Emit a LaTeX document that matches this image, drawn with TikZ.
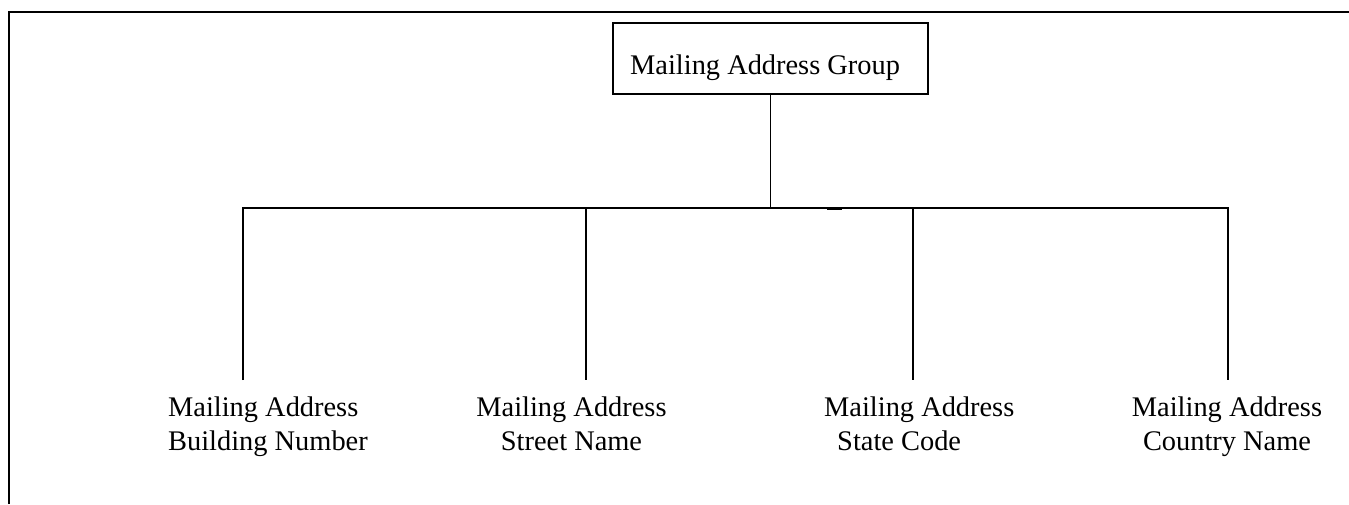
\documentclass[tikz,border=0pt]{standalone}
\usepackage{fontspec}
\setmainfont{Liberation Serif}
\begin{document}
\begin{tikzpicture}[x=1pt,y=-1pt,
  conn/.style={line width=1.3pt},
  frameline/.style={line width=2pt},
  lbl/.style={inner sep=0pt, font=\fontsize{28.4pt}{34pt}\selectfont},
  boxnode/.style={draw, line width=1.3pt, inner sep=0pt, minimum width=315pt, minimum height=71pt}]
\useasboundingbox (0,0) rectangle (1349,504);
% outer frame (only left and top edges visible)
\draw[frameline] (8.5,504) -- (8.5,12) -- (1349,12);
% top box
\node[boxnode] (group) at (770.5,58.5) {};
\node[lbl, anchor=base west] (grouptext) at (630,74) {Mailing Address Group};
% bus coordinates
\coordinate (bus) at (770.5,208);
\coordinate (b1) at (243,208);
\coordinate (b2) at (586,208);
\coordinate (b3) at (913,208);
\coordinate (b4) at (1228,208);
\coordinate (e1) at (243,380);
\coordinate (e2) at (586,380);
\coordinate (e3) at (913,380);
\coordinate (e4) at (1228,380);
% labels
\node[lbl, anchor=north west, align=left] (lab1) at (168,392.2) {\strut Mailing Address\\\strut Building Number};
\node[lbl, anchor=north, align=center] (lab2) at (571.5,392.2) {\strut Mailing Address\\\strut Street Name};
\node[lbl, anchor=north west, align=left] (lab3) at (824,392.2) {\strut Mailing Address\\\hspace*{13pt}\strut State Code};
\node[lbl, anchor=north, align=center] (lab4) at (1227,392.2) {\strut Mailing Address\\\strut Country Name};
% connectors
\draw[conn] (group.south) -- (bus);
\draw[conn] (e1) -- (b1) -- (b4) -- (e4);
\draw[conn] (b2) -- (e2);
\draw[conn] (b3) -- (e3);
\draw[line width=2pt] (827,209.3) -- (842,209.3);
\end{tikzpicture}
\end{document}
